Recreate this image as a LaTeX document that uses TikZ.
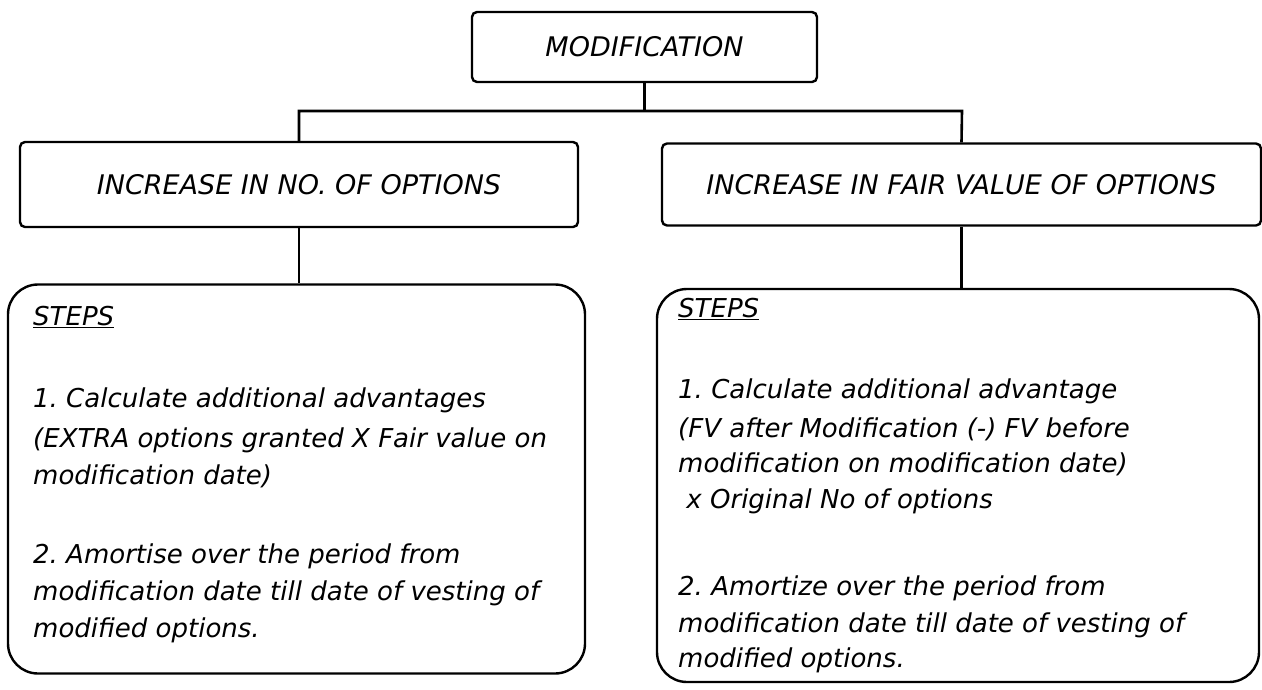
\documentclass[tikz,border=0pt]{standalone}
\usepackage{fontspec}
\setmainfont{DejaVu Sans}
\frenchspacing
\begin{document}
\begin{tikzpicture}[x=1pt,y=-1pt,
  line width=2.4pt,
  headbox/.style={draw=black, line width=2.4pt, rounded corners=5pt, inner sep=0pt,
    font=\fontsize{27}{32}\selectfont\itshape},
  stepsbox/.style={draw=black, line width=2.4pt, rounded corners=30pt, inner sep=0pt},
  body/.style={anchor=base west, inner sep=0pt,
    font=\fontsize{26}{37}\selectfont\itshape},
  link/.style={draw=black, line width=2.6pt}
]
\useasboundingbox[fill=white] (0,0) rectangle (1262,689);

% heading boxes
\node[headbox, minimum width=345pt, minimum height=70pt] (mod) at (644.5,47) {MODIFICATION};
\node[headbox, minimum width=558pt, minimum height=85pt] (incno) at (299,184.5) {INCREASE IN NO. OF OPTIONS};
\node[headbox, minimum width=599pt, minimum height=82pt] (incfv) at (961.5,184.5) {INCREASE IN FAIR VALUE OF OPTIONS};

% step boxes
\node[stepsbox, minimum width=577pt, minimum height=389pt] (stepsL) at (296.5,479) {};
\node[stepsbox, minimum width=602pt, minimum height=393pt] (stepsR) at (958,485.5) {};

% tree connectors
\coordinate (jl) at (299,111);
\coordinate (jr) at (962,111);
\draw[link] (mod.south) -- (mod.south |- jl);
\draw[link] (incno.north) -- (jl) -- (jr) -- (incfv.north);
\draw[link] (incno.south) -- (incno.south |- stepsL.north);
\draw[link] (incfv.south) -- (incfv.south |- stepsR.north);

% left steps text
\node[body] (stepsLt) at (32,325) {\underline{STEPS}};
\foreach \y/\t [count=\k] in {
  407/1. Calculate additional advantages,
  447/(EXTRA options granted X Fair value on,
  484/modification date),
  563/2. Amortise over the period from,
  600/modification date till date of vesting of,
  637/modified options.}
  \node[body] (lt\k) at (32,\y) {\t};

% right steps text
\node[body] (stepsRt) at (677,317) {\underline{STEPS}};
\foreach \y/\t [count=\k] in {
  398/1. Calculate additional advantage,
  437/(FV after Modification (-) FV before,
  472/modification on modification date),
  508/\ x Original No of options,
  595/2. Amortize over the period from,
  632/modification date till date of vesting of,
  667/modified options.}
  \node[body] (rt\k) at (677,\y) {\t};
\end{tikzpicture}
\end{document}
